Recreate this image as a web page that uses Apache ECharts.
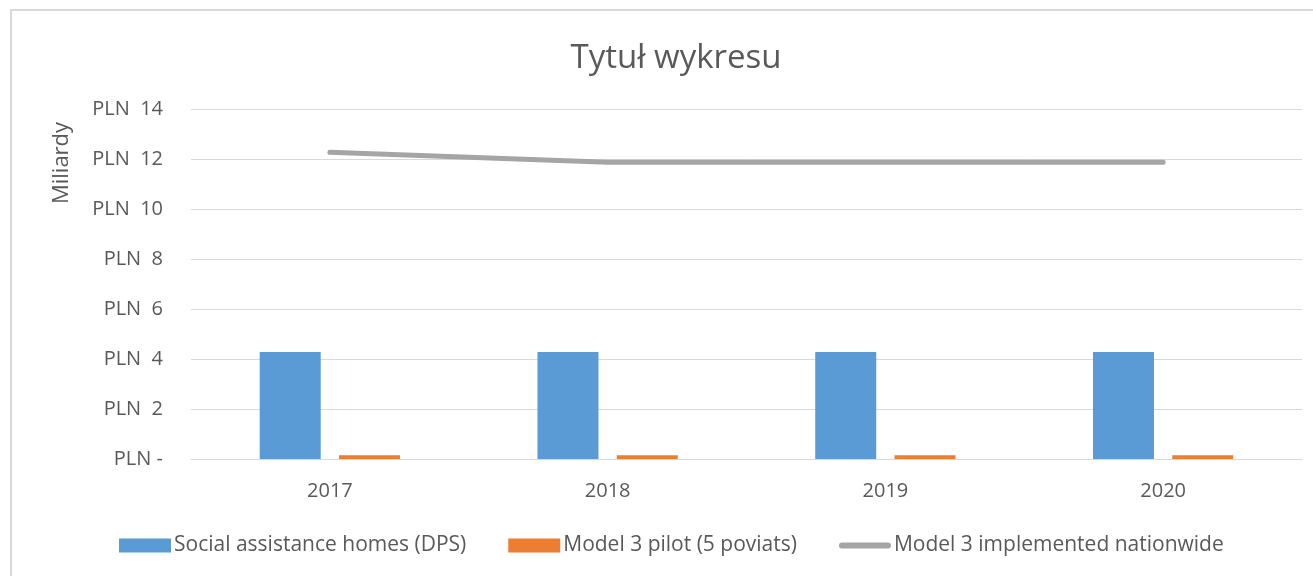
<!DOCTYPE html>
<html>
<head>
<meta charset="utf-8">
<script src="https://cdn.jsdelivr.net/npm/echarts@6/dist/echarts.min.js"></script>
<style>
  html, body { margin: 0; padding: 0; background: #fff; overflow: hidden; }
  #frame { position: absolute; left: 10px; top: 9px; width: 1320px; height: 600px;
           border: 2px solid #d9d9d9; box-sizing: border-box; }
  #chart { position: absolute; left: 0; top: 0; width: 1313px; height: 576px; }
</style>
</head>
<body>
<div id="frame"></div>
<div id="chart"></div>
<script>
var years = ['2017', '2018', '2019', '2020'];
var dps = [4.28, 4.28, 4.28, 4.28];
var pilot = [0.15, 0.15, 0.15, 0.15];
var nationwide = [12.27, 11.87, 11.87, 11.87];

var fontName = 'Open Sans';
var myChart = echarts.init(document.getElementById('chart'));

var option = {
    animation: false,
    title: {
        text: 'Tytuł wykresu',
        left: 671,
        top: 37,
        textAlign: 'center',
        textStyle: { fontFamily: fontName, fontSize: 33, fontWeight: 'normal', color: '#595959' }
    },
    graphic: [{
        type: 'text',
        x: 62,
        y: 163,
        rotation: Math.PI / 2,
        style: {
            text: 'Miliardy',
            fontFamily: fontName,
            fontSize: 22,
            fill: '#595959',
            textAlign: 'center',
            textVerticalAlign: 'middle'
        }
    }],
    legend: {
        bottom: 15,
        left: 114,
        itemWidth: 52,
        itemHeight: 14,
        itemGap: 42,
        textStyle: { fontFamily: fontName, fontSize: 21, color: '#595959', padding: [0, 0, 0, -2] },
        data: [
            { name: 'Social assistance homes (DPS)', icon: 'rect' },
            { name: 'Model 3 pilot (5 poviats)', icon: 'rect' },
            { name: 'Model 3 implemented nationwide',
              icon: 'path://M3,0 L49,0 A3,3 0 0 1 49,6 L3,6 A3,3 0 0 1 3,0 Z' }
        ]
    },
    grid: { left: 191, right: 11, top: 109, bottom: 117 },
    xAxis: {
        type: 'category',
        data: years,
        axisLine: { lineStyle: { color: '#d9d9d9', width: 1 } },
        axisTick: { show: false },
        axisLabel: { fontFamily: fontName, fontSize: 20, color: '#595959', margin: 22 }
    },
    yAxis: {
        type: 'value',
        min: 0,
        max: 14,
        interval: 2,
        axisLine: { show: false },
        axisTick: { show: false },
        splitLine: { lineStyle: { color: '#d9d9d9', width: 1 } },
        axisLabel: {
            fontFamily: fontName, fontSize: 20, color: '#595959', margin: 28,
            formatter: function (v) { return v === 0 ? 'PLN -' : 'PLN  ' + v; }
        }
    },
    series: [{
        name: 'Social assistance homes (DPS)',
        type: 'bar',
        data: dps,
        barWidth: 61,
        barGap: '30%',
        itemStyle: { color: '#5b9bd5' }
    }, {
        name: 'Model 3 pilot (5 poviats)',
        type: 'bar',
        data: pilot,
        barWidth: 61,
        barGap: '30%',
        itemStyle: { color: '#ed7d31' }
    }, {
        name: 'Model 3 implemented nationwide',
        type: 'line',
        data: nationwide,
        symbol: 'none',
        itemStyle: { color: '#a5a5a5' },
        lineStyle: { color: '#a5a5a5', width: 5, cap: 'round' }
    }]
};

myChart.setOption(option);
</script>
</body>
</html>
